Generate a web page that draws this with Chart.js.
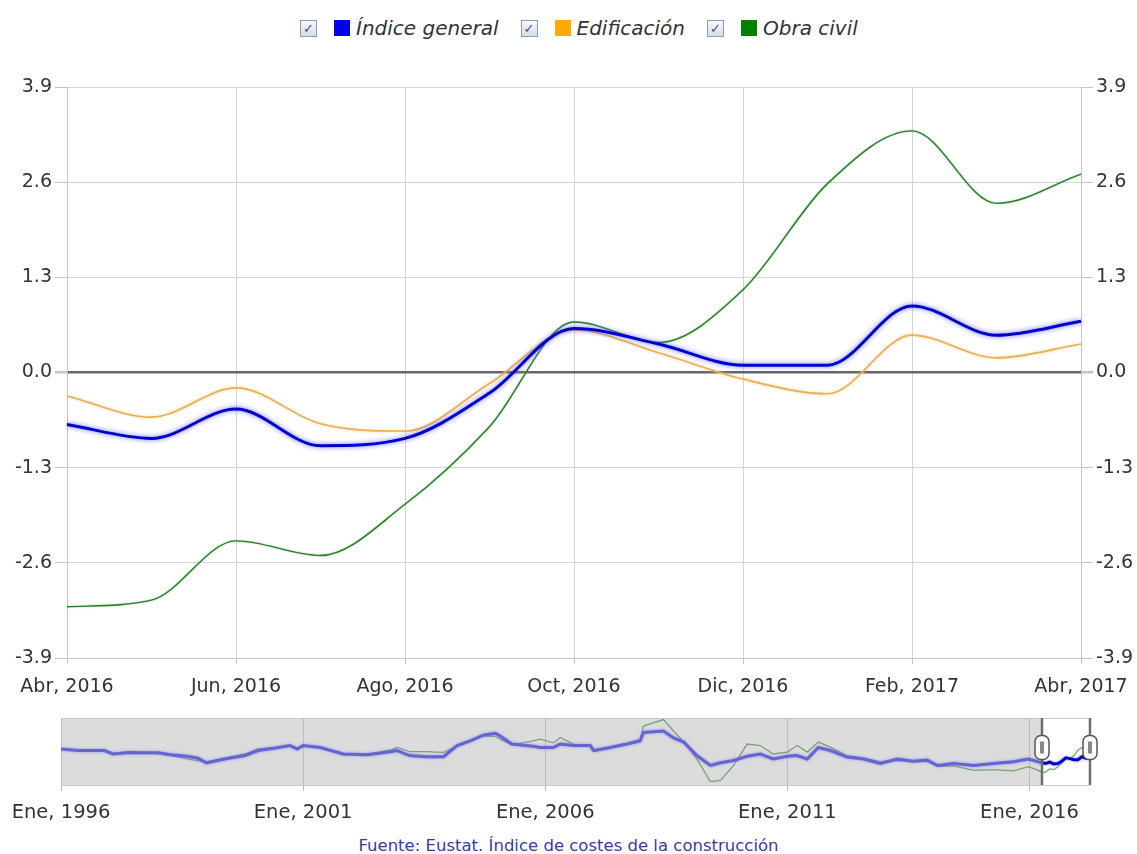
<!DOCTYPE html>
<html>
<head>
<meta charset="utf-8">
<script src="https://cdn.jsdelivr.net/npm/chart.js@4.4.1/dist/chart.umd.min.js"></script>
<style>
  body { margin: 0; width: 1137px; height: 854px; background: #fff; position: relative; overflow: hidden; font-family: "DejaVu Sans", sans-serif; }
  #legend { position: absolute; top: 19px; left: 300px; display: flex; align-items: center; height: 18px; }
  .chk { width: 15px; height: 15px; border: 1px solid #8a9bb8; background: linear-gradient(#f6f8fb, #d5dde9); color: #3d4f7a; font-size: 13px; line-height: 15px; text-align: center; font-weight: bold; }
  .sq { width: 16px; height: 16px; margin-left: 17px; margin-right: 6px; }
  .lbl { font-style: italic; font-size: 20px; color: #333; margin-right: 22px; white-space: nowrap; }
  #mainWrap { position: absolute; left: 0; top: 0; width: 1137px; height: 700px; }
  #navWrap { position: absolute; left: 0; top: 700px; width: 1137px; height: 130px; }
  #source { position: absolute; left: 0; top: 836px; width: 1137px; text-align: center; font-size: 16.5px; color: #3b3b9e; }
</style>
</head>
<body>
<div id="legend">
  <div class="chk">✓</div><div class="sq" style="background:#0000ee"></div><span class="lbl">Índice general</span>
  <div class="chk">✓</div><div class="sq" style="background:#ffaa00"></div><span class="lbl">Edificación</span>
  <div class="chk">✓</div><div class="sq" style="background:#008000"></div><span class="lbl">Obra civil</span>
</div>
<div id="mainWrap"><canvas id="main" width="1137" height="700"></canvas></div>
<div id="navWrap"><canvas id="nav" width="1137" height="130"></canvas></div>
<div id="source">Fuente: Eustat. Índice de costes de la construcción</div>
<script>
// monthly annual rates, Abr 2016 - Abr 2017
const monthLabels = ['Abr, 2016', 'May, 2016', 'Jun, 2016', 'Jul, 2016', 'Ago, 2016', 'Sep, 2016', 'Oct, 2016',
  'Nov, 2016', 'Dic, 2016', 'Ene, 2017', 'Feb, 2017', 'Mar, 2017', 'Abr, 2017'];
const indiceGeneral = [-0.71, -0.90, -0.50, -1.00, -0.90, -0.28, 0.60, 0.39, 0.10, 0.10, 0.91, 0.51, 0.70];
const edificacion = [-0.32, -0.61, -0.21, -0.70, -0.80, -0.15, 0.58, 0.27, -0.09, -0.29, 0.51, 0.20, 0.39];
const obraCivil = [-3.20, -3.11, -2.30, -2.50, -1.80, -0.74, 0.69, 0.41, 1.13, 2.58, 3.30, 2.31, 2.71];
const yTicks = [-3.9, -2.6, -1.3, 0, 1.3, 2.6, 3.9];

// overview series 1996 - Mar 2016 (decimal years)
const navX = [1996.00, 1996.35, 1996.90, 1997.07, 1997.40, 1997.65, 1998.00, 1998.27, 1998.60, 1998.83, 1999.00,
  1999.38, 1999.80, 2000.07, 2000.40, 2000.73, 2000.88, 2001.00, 2001.35, 2001.83, 2002.32, 2002.80, 2002.94,
  2003.20, 2003.55, 2003.90, 2004.18, 2004.45, 2004.72, 2004.97, 2005.07, 2005.31, 2005.75, 2005.90, 2006.17,
  2006.31, 2006.58, 2006.93, 2007.00, 2007.27, 2007.69, 2007.96, 2008.03, 2008.44, 2008.65, 2008.86, 2009.13,
  2009.41, 2009.62, 2009.89, 2010.17, 2010.44, 2010.71, 2011.00, 2011.20, 2011.41, 2011.64, 2011.89, 2012.23,
  2012.57, 2012.92, 2013.27, 2013.60, 2013.89, 2014.10, 2014.43, 2014.85, 2015.26, 2015.67, 2015.98, 2016.17];
const navGeneral = [2.9, 2.5, 2.5, 1.6, 2.0, 1.9, 1.9, 1.4, 1.0, 0.5, -0.7,
  0.3, 1.2, 2.5, 3.1, 3.8, 2.9, 3.8, 3.3, 1.6, 1.4, 2.2, 2.5,
  1.2, 0.9, 0.9, 3.8, 5.0, 6.5, 7.0, 6.3, 4.2, 3.6, 3.3, 3.3,
  4.2, 3.8, 3.8, 2.5, 3.1, 4.2, 5.0, 7.2, 7.6, 5.8, 4.7, 1.2,
  -1.4, -0.7, -0.1, 1.0, 1.6, 0.3, 1.0, 1.2, 0.3, 3.3, 2.5, 0.8,
  0.3, -0.9, 0.3, -0.3, 0.0, -1.4, -0.9, -1.4, -0.9, -0.4, 0.3, -0.4];
const navObra = [2.9, 2.5, 2.4, 1.6, 2.0, 1.8, 1.7, 1.2, 0.3, -0.2, -0.6,
  0.5, 1.6, 2.9, 3.3, 3.7, 3.0, 3.8, 3.4, 1.4, 1.5, 2.6, 3.3,
  2.2, 2.2, 2.0, 3.6, 4.9, 6.3, 6.2, 5.5, 4.0, 5.0, 5.5, 4.5,
  5.9, 4.2, 3.6, 2.5, 3.3, 4.4, 5.5, 8.9, 10.6, 7.6, 4.7, 0.3,
  -5.6, -5.3, -1.4, 4.2, 3.8, 1.6, 2.1, 3.8, 2.1, 4.7, 3.4, 1.2,
  0.6, -0.4, -0.1, -0.4, -0.4, -1.6, -1.5, -2.7, -2.5, -2.8, -1.7, -2.6];
const navYears = [1996, 2001, 2006, 2011, 2016];
const selStart = 2016.25;
const selEnd = 2017.25;

const FONT = '"DejaVu Sans", sans-serif';

const glow = {
  id: 'glow',
  beforeDatasetDraw(chart, args) {
    const ds = chart.data.datasets[args.index];
    if (!ds.glow) return;
    chart.ctx.save();
    chart.ctx.shadowColor = ds.glow;
    chart.ctx.shadowBlur = ds.glowBlur || 5;
  },
  afterDatasetDraw(chart, args) {
    const ds = chart.data.datasets[args.index];
    if (!ds.glow) return;
    chart.ctx.restore();
  }
};

const yAxis = (pos, width, onChart) => ({
  position: pos,
  min: -3.9,
  max: 3.9,
  afterBuildTicks: a => { a.ticks = yTicks.map(v => ({ value: v })); },
  afterFit: a => { a.width = width; },
  border: { color: '#c4c4c4' },
  grid: {
    drawOnChartArea: onChart,
    tickLength: 12,
    tickColor: '#c4c4c4',
    color: c => (c.tick && c.tick.value === 0 ? '#666' : '#d4d4d4'),
    lineWidth: c => (c.tick && c.tick.value === 0 ? 2.5 : 1)
  },
  ticks: {
    padding: 3,
    color: '#333',
    font: { family: FONT, size: 19 },
    callback: v => v.toFixed(1)
  }
});

// keep edge labels from shrinking the plot
const fixX = h => a => { a.height = h; a.paddingLeft = 0; a.paddingRight = 0; };

new Chart(document.getElementById('main'), {
  type: 'line',
  data: {
    labels: monthLabels,
    datasets: [
      { label: 'Índice general', data: indiceGeneral, borderColor: '#0000cc', borderWidth: 3,
        glow: 'rgba(90,90,255,0.9)', glowBlur: 5 },
      { label: 'Edificación', data: edificacion, borderColor: '#eaae55', borderWidth: 1.6,
        glow: 'rgba(240,200,130,0.9)', glowBlur: 3 },
      { label: 'Obra civil', data: obraCivil, borderColor: '#2d7a2d', borderWidth: 1.4,
        glow: 'rgba(120,190,120,0.8)', glowBlur: 2 }
    ]
  },
  options: {
    responsive: false,
    animation: false,
    layout: { padding: { top: 87, left: 0, right: 0, bottom: 0 } },
    elements: { point: { radius: 0 }, line: { cubicInterpolationMode: 'monotone' } },
    plugins: { legend: { display: false }, tooltip: { enabled: false } },
    scales: {
      x: {
        afterBuildTicks: a => { a.ticks = a.ticks.filter(t => t.value % 2 === 0); },
        afterFit: fixX(42),
        border: { color: '#c4c4c4' },
        grid: { color: '#d4d4d4', tickLength: 6, tickColor: '#c4c4c4' },
        ticks: { autoSkip: false, maxRotation: 0, padding: 12, color: '#333', font: { family: FONT, size: 19 } }
      },
      y: yAxis('left', 67, true),
      y2: yAxis('right', 56, false)
    }
  },
  plugins: [glow]
});

// navigator
const toPts = (xs, ys) => xs.map((x, i) => ({ x: x, y: ys[i] }));
const monthPts = ys => ys.map((v, i) => ({ x: selStart + i / 12, y: v }));

const navBack = {
  id: 'navBack',
  beforeDraw(chart) {
    const a = chart.chartArea, ctx = chart.ctx, xs = chart.scales.x;
    ctx.save();
    ctx.fillStyle = '#dcdcdc';
    ctx.fillRect(a.left, a.top, a.right - a.left, a.bottom - a.top);
    const x0 = xs.getPixelForValue(selStart), x1 = xs.getPixelForValue(selEnd);
    ctx.fillStyle = '#ffffff';
    ctx.fillRect(x0, a.top, x1 - x0, a.bottom - a.top);
    ctx.strokeStyle = '#c8c8c8';
    ctx.lineWidth = 1;
    ctx.strokeRect(a.left + 0.5, a.top + 0.5, a.right - a.left - 1, a.bottom - a.top);
    ctx.restore();
  },
  afterDraw(chart) {
    const a = chart.chartArea, ctx = chart.ctx, xs = chart.scales.x;
    const mid = (a.top + a.bottom) / 2 - 4;
    ctx.save();
    [selStart, selEnd].forEach(v => {
      const x = Math.round(xs.getPixelForValue(v));
      ctx.strokeStyle = '#6e6e6e';
      ctx.lineWidth = 2.5;
      ctx.beginPath();
      ctx.moveTo(x, a.top);
      ctx.lineTo(x, a.bottom);
      ctx.stroke();
      ctx.fillStyle = '#fff';
      ctx.strokeStyle = '#555';
      ctx.lineWidth = 1.5;
      ctx.beginPath();
      ctx.roundRect(x - 7, mid - 12, 14, 24, 6);
      ctx.fill();
      ctx.stroke();
      ctx.fillStyle = '#888';
      ctx.fillRect(x - 2, mid - 6, 4, 12);
    });
    ctx.restore();
  }
};

const inSel = c => c.p0.parsed.x >= selStart - 0.01;

new Chart(document.getElementById('nav'), {
  type: 'line',
  data: {
    datasets: [
      { label: 'Índice general', data: toPts(navX, navGeneral).concat(monthPts(indiceGeneral)),
        borderColor: '#6464d2', borderWidth: 3, glow: 'rgba(120,120,240,0.7)', glowBlur: 3,
        segment: { borderColor: c => (inSel(c) ? '#0000cc' : '#6464d2') } },
      { label: 'Edificación', data: monthPts(edificacion), borderColor: '#e8c070', borderWidth: 1.2 },
      { label: 'Obra civil', data: toPts(navX, navObra).concat(monthPts(obraCivil)),
        borderColor: '#7ba07b', borderWidth: 1.3,
        segment: { borderColor: c => (inSel(c) ? '#6aa86a' : '#7ba07b') } }
    ]
  },
  options: {
    responsive: false,
    animation: false,
    layout: { padding: { top: 18, left: 61, right: 47, bottom: 0 } },
    elements: { point: { radius: 0 }, line: { tension: 0 } },
    plugins: { legend: { display: false }, tooltip: { enabled: false } },
    scales: {
      x: {
        type: 'linear',
        min: 1996,
        max: selEnd,
        afterBuildTicks: a => { a.ticks = navYears.map(v => ({ value: v })); },
        afterFit: fixX(45),
        border: { display: false },
        grid: { color: '#bdbdbd', tickLength: 6, tickColor: '#bdbdbd' },
        ticks: { padding: 10, color: '#333', font: { family: FONT, size: 19.5 }, callback: v => 'Ene, ' + v }
      },
      y: { display: false, min: -6.5, max: 11 }
    }
  },
  plugins: [navBack, glow]
});
</script>
</body>
</html>
